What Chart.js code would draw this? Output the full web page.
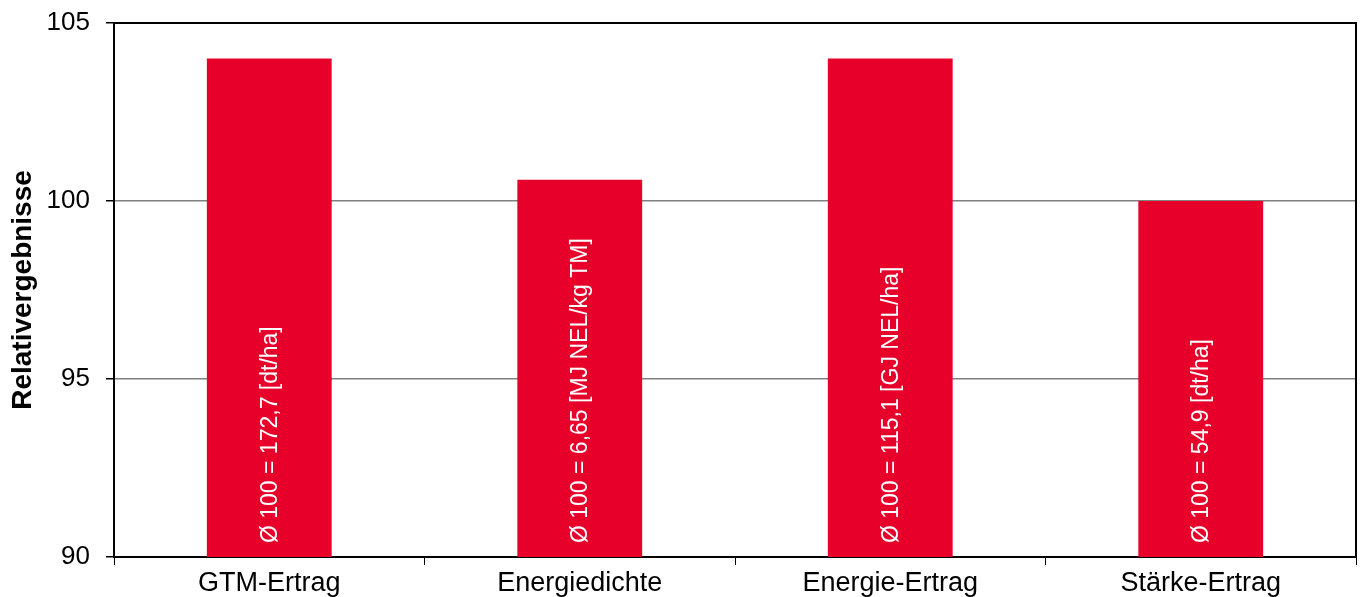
<!DOCTYPE html>
<html>
<head>
<meta charset="utf-8">
<script src="https://cdn.jsdelivr.net/npm/chart.js@4/dist/chart.umd.min.js"></script>
<style>
  html, body { margin: 0; padding: 0; background: #fff; }
  #wrap { width: 1363px; height: 597px; }
</style>
</head>
<body>
<div id="wrap"><canvas id="chart" width="1363" height="597"></canvas></div>
<script>
// data
const categories = ['GTM-Ertrag', 'Energiedichte', 'Energie-Ertrag', 'Stärke-Ertrag'];
const relValues = [104, 100.6, 104, 100];
const barNotes = ['Ø 100 = 172,7 [dt/ha]', 'Ø 100 = 6,65 [MJ NEL/kg TM]', 'Ø 100 = 115,1 [GJ NEL/ha]', 'Ø 100 = 54,9 [dt/ha]'];
const yTicks = [90, 95, 100, 105];

const FONT = '"Liberation Sans", Arial, sans-serif';

// white rotated text inside each bar + frame on top/right
const barTextPlugin = {
  id: 'barText',
  afterDatasetsDraw(chart) {
    const ctx = chart.ctx;
    const meta = chart.getDatasetMeta(0);
    const area = chart.chartArea;
    ctx.save();
    ctx.fillStyle = '#ffffff';
    ctx.font = '23px ' + FONT;
    ctx.textAlign = 'left';
    ctx.textBaseline = 'middle';
    meta.data.forEach((bar, i) => {
      ctx.save();
      ctx.translate(bar.x, area.bottom - 14);
      ctx.rotate(-Math.PI / 2);
      ctx.fillText(barNotes[i], 0, 1);
      ctx.restore();
    });
    // top and right border
    ctx.strokeStyle = '#000';
    ctx.lineWidth = 2;
    ctx.beginPath();
    ctx.moveTo(area.left, area.top);
    ctx.lineTo(area.right, area.top);
    ctx.lineTo(area.right, area.bottom);
    ctx.stroke();
    ctx.restore();
  }
};

new Chart(document.getElementById('chart'), {
  type: 'bar',
  data: {
    labels: categories,
    datasets: [{
      data: relValues,
      backgroundColor: '#e6002a',
      borderWidth: 0,
      categoryPercentage: 1,
      barPercentage: 0.402
    }]
  },
  options: {
    responsive: false,
    animation: false,
    layout: { padding: { top: 23, right: 7, left: 0, bottom: 0 } },
    plugins: { legend: { display: false }, tooltip: { enabled: false } },
    scales: {
      x: {
        grid: { offset: true, drawOnChartArea: false, color: '#000', tickLength: 8, lineWidth: 1 },
        border: { color: '#000', width: 2 },
        ticks: { color: '#000', font: { family: FONT, size: 27 }, padding: 2, maxRotation: 0 },
        afterFit(scale) {
          scale.height = 40;
          scale.paddingLeft = 0;
          scale.paddingRight = 0;
        }
      },
      y: {
        min: 90,
        max: 105,
        afterBuildTicks(scale) { scale.ticks = yTicks.map(v => ({ value: v })); },
        grid: {
          color: ctx => (ctx.tick && (ctx.tick.value === 90 || ctx.tick.value === 105)) ? '#000' : '#808080',
          tickColor: '#000',
          tickLength: 8,
          lineWidth: 1.5
        },
        border: { color: '#000', width: 2 },
        ticks: { color: '#000', font: { family: FONT, size: 26 }, padding: 16 },
        title: {
          display: true,
          text: 'Relativergebnisse',
          color: '#000',
          font: { family: FONT, size: 28, weight: 'bold' },
          padding: { top: 6, bottom: 0 }
        },
        afterFit(scale) {
          scale.width = 114;
          scale.paddingTop = 0;
          scale.paddingBottom = 0;
        }
      }
    }
  },
  plugins: [barTextPlugin]
});
</script>
</body>
</html>
